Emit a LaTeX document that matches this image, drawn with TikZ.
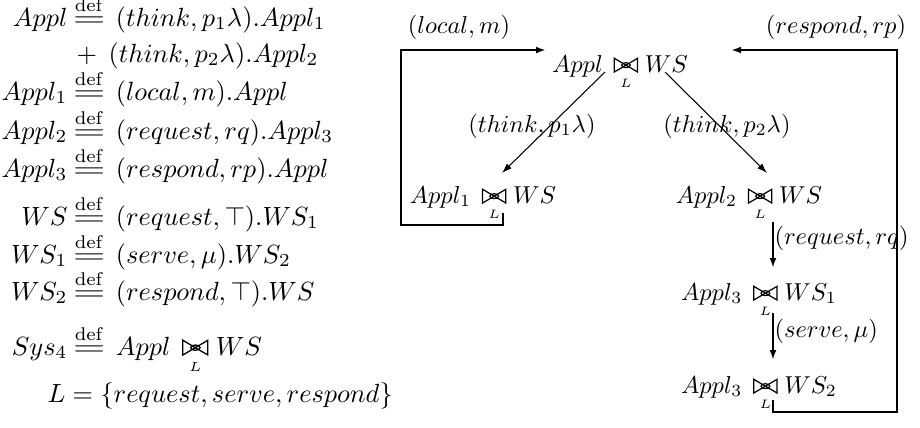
\documentclass[tikz,border=0pt]{standalone}
\usepackage{amsmath,amssymb}
\usetikzlibrary{arrows.meta}

% "defined as": def over a widened equals sign
\newcommand\dfeq{\mathrel{\mkern3mu\stackrel{\mathrm{def}}{\scalebox{1.6}[1]{$=$}}\mkern2mu}}
% PEPA cooperation glyph: a bow tie with a small ring at the crossing
\newcommand\coopglyph{\tikz[baseline=0pt, line width=0.5pt]{
  \draw[line join=miter] (0pt,0pt) -- (0pt,5.6pt) -- (9.5pt,0pt) -- (9.5pt,5.6pt) -- cycle;
  \draw (4.75pt,2.8pt) ellipse [x radius=1.8pt, y radius=1pt];}}
% cooperation over a set, the set written underneath
\newcommand\coop[1]{\mathrel{\mkern3mu\mathop{\hbox{\coopglyph}}\limits_{\scriptscriptstyle #1}\mkern0mu}}
% slightly smaller math for the derivation graph
\newcommand\gm[1]{\scalebox{0.93}{$#1$}}

\tikzset{
  lhs/.style={anchor=base east, inner sep=0pt},
  rhs/.style={anchor=base west, inner sep=0pt},
  state/.style={anchor=base, inner sep=0pt},
  lbl/.style={anchor=base, inner sep=0pt},
  lblr/.style={anchor=base west, inner sep=0pt},
  tip/.style={-{Latex[length=3.8pt,width=2.6pt]}},
  trans/.style={line width=0.4pt, tip},
  seq/.style={line width=0.75pt, tip},
  back/.style={line width=1pt, tip},
}

\begin{document}
\begin{tikzpicture}[x=0.38pt, y=-0.38pt]
\useasboundingbox (0,0) rectangle (920,427);

% ---- model definitions ----
\node[lhs] (a1) at (68,26) {$Appl$};
\node[rhs] (b1) at (68,26) {$\dfeq (think, p_1\lambda).Appl_1$};
\node[rhs] (b2) at (76,62) {$+\mkern8mu(think, p_2\lambda).Appl_2$};
\node[lhs] (a3) at (68,100) {$Appl_1$};
\node[rhs] (b3) at (68,100) {$\dfeq (local, m).Appl$};
\node[lhs] (a4) at (68,139) {$Appl_2$};
\node[rhs] (b4) at (68,139) {$\dfeq (request, rq).Appl_3$};
\node[lhs] (a5) at (68,177) {$Appl_3$};
\node[rhs] (b5) at (68,177) {$\dfeq (respond, rp).Appl$};
\node[lhs] (a6) at (68,225) {$WS$};
\node[rhs] (b6) at (68,225) {$\dfeq (request, \top).WS_1$};
\node[lhs] (a7) at (68,263) {$WS_1$};
\node[rhs] (b7) at (68,263) {$\dfeq (serve, \mu).WS_2$};
\node[lhs] (a8) at (68,300) {$WS_2$};
\node[rhs] (b8) at (68,300) {$\dfeq (respond, \top).WS$};
\node[lhs] (a9) at (68,355) {$Sys_4$};
\node[rhs] (b9) at (68,355) {$\dfeq Appl \coop{L} WS$};
\node[rhs] (b10) at (47,402) {$L = \{request, serve, respond\}$};

% ---- derivation graph ----
\node[state] (s0) at (620,72)  {\gm{Appl \coop{L} WS}};
\node[state] (s1) at (483,203) {\gm{Appl_1 \coop{L} WS}};
\node[state] (s2) at (749,203) {\gm{Appl_2 \coop{L} WS}};
\node[state] (s3) at (759,300) {\gm{Appl_3 \coop{L} WS_1}};
\node[state] (s4) at (759,393) {\gm{Appl_3 \coop{L} WS_2}};

\draw[trans] ([shift={(-15,0)}]s0.base) -- ([shift={(19,-30)}]s1.base);
\draw[trans] ([shift={(45,0)}]s0.base) -- ([shift={(18,-30)}]s2.base);
\node[lbl] (t1) at (532,132) {\gm{(think, p_1\lambda)}};
\node[lbl] (t2) at (727,132) {\gm{(think, p_2\lambda)}};

\draw[seq] ([shift={(24,19)}]s2.base) -- ([shift={(14,-32)}]s3.base);
\draw[seq] ([shift={(14,13)}]s3.base) -- ([shift={(14,-33)}]s4.base);
\node[lblr] (t3) at (774,244) {\gm{(request, rq)}};
\node[lblr] (t4) at (774,337) {\gm{(serve, \mu)}};

% return loops
\coordinate (l1) at (401,225);
\coordinate (l2) at (401,50);
\coordinate (lend) at (546,50);
\draw[back] ([shift={(20,10)}]s1.base) |- (l1) -- (l2) -- (lend);
\node[lbl] (t5) at (459,33) {\gm{(local, m)}};

\coordinate (r1) at (897,412);
\coordinate (r2) at (897,50);
\coordinate (rend) at (731,50);
\draw[back] ([shift={(14,7)}]s4.base) |- (r1) -- (r2) -- (rend);
\node[lbl] (t6) at (836,33) {\gm{(respond, rp)}};
\end{tikzpicture}
\end{document}
